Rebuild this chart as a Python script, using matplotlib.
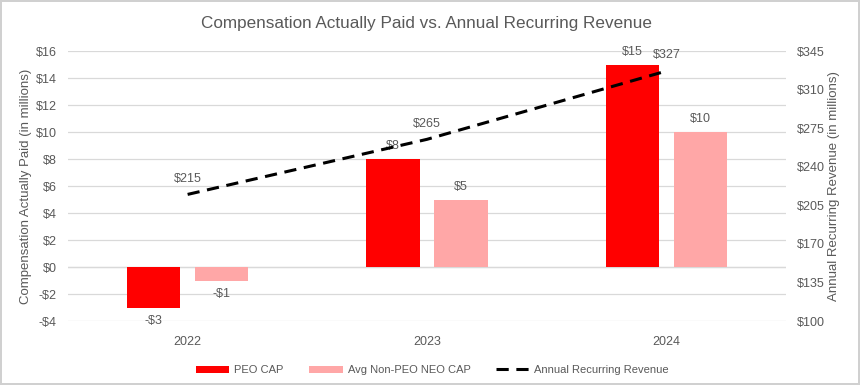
import matplotlib.pyplot as plt
import numpy as np

plt.rcParams['font.family'] = ['Liberation Sans', 'DejaVu Sans']

years = ['2022', '2023', '2024']
peo_cap = [-3, 8, 15]
non_peo_cap = [-1, 5, 10]
arr = [215, 265, 327]

txt = '#595959'
grid = '#D9D9D9'

fig = plt.figure(figsize=(8.6, 3.85), dpi=100)
fig.patch.set_edgecolor('#D0D0D0')
fig.patch.set_linewidth(1.5)
ax = fig.add_axes([0.079, 0.166, 0.835, 0.701])
ax2 = ax.twinx()

x = np.arange(len(years))
w = 0.222
off = 0.142
b1 = ax.bar(x - off, peo_cap, w, color='#FF0000', label='PEO CAP', zorder=2)
b2 = ax.bar(x + off, non_peo_cap, w, color='#FFA7A7', label='Avg Non-PEO NEO CAP', zorder=2)

for bars, vals in ((b1, peo_cap), (b2, non_peo_cap)):
    for r, v in zip(bars, vals):
        lbl = f'${v}' if v >= 0 else f'-${-v}'
        if v >= 0:
            ax.annotate(lbl, (r.get_x() + r.get_width() / 2, v), xytext=(0, 5),
                        textcoords='offset points', ha='center', va='bottom', color=txt, fontsize=9)
        else:
            ax.annotate(lbl, (r.get_x() + r.get_width() / 2, v), xytext=(0, -5),
                        textcoords='offset points', ha='center', va='top', color=txt, fontsize=9)

ln, = ax2.plot(x, arr, color='black', linestyle=(0, (4, 2.5)), linewidth=2.2,
               label='Annual Recurring Revenue', zorder=3)
for xi, v in zip(x, arr):
    ax2.annotate(f'${v}', (xi, v), xytext=(0, 7), textcoords='offset points',
                 ha='center', va='bottom', color=txt, fontsize=9)

ax.set_xlim(-0.5, 2.5)
ax.set_ylim(-4, 16)
ax.set_yticks(range(-4, 17, 2))
ax.set_yticklabels([f'${v}' if v >= 0 else f'-${-v}' for v in range(-4, 17, 2)])
ax2.set_ylim(100, 345)
ax2.set_yticks(range(100, 346, 35))
ax2.set_yticklabels([f'${v}' for v in range(100, 346, 35)])
ax.set_xticks(x)
ax.set_xticklabels(years)

ax.grid(axis='y', color=grid, linewidth=0.9, zorder=0)
ax.axhline(0, color=grid, linewidth=0.9, zorder=1)
for a in (ax, ax2):
    for s in a.spines.values():
        s.set_visible(False)
    a.tick_params(length=0, colors=txt, labelsize=9)
ax.tick_params(axis='y', pad=8)
ax2.tick_params(axis='y', pad=8)
ax.tick_params(axis='x', pad=11)

ax.set_ylabel('Compensation Actually Paid (in millions)', color=txt, fontsize=9.5, labelpad=3)
ax2.set_ylabel('Annual Recurring Revenue (in millions)', color=txt, fontsize=9.5, labelpad=2)
ax.set_title('Compensation Actually Paid vs. Annual Recurring Revenue', color=txt,
             fontsize=12.3, pad=17)

fig.legend(handles=[b1, b2, ln], loc='lower center', bbox_to_anchor=(0.503, 0.0),
           ncol=3, frameon=False, fontsize=8, labelcolor=txt, handlelength=3.0,
           handletextpad=0.45, columnspacing=2.3, handleheight=0.6)

fig.savefig('out.png', dpi=100)
